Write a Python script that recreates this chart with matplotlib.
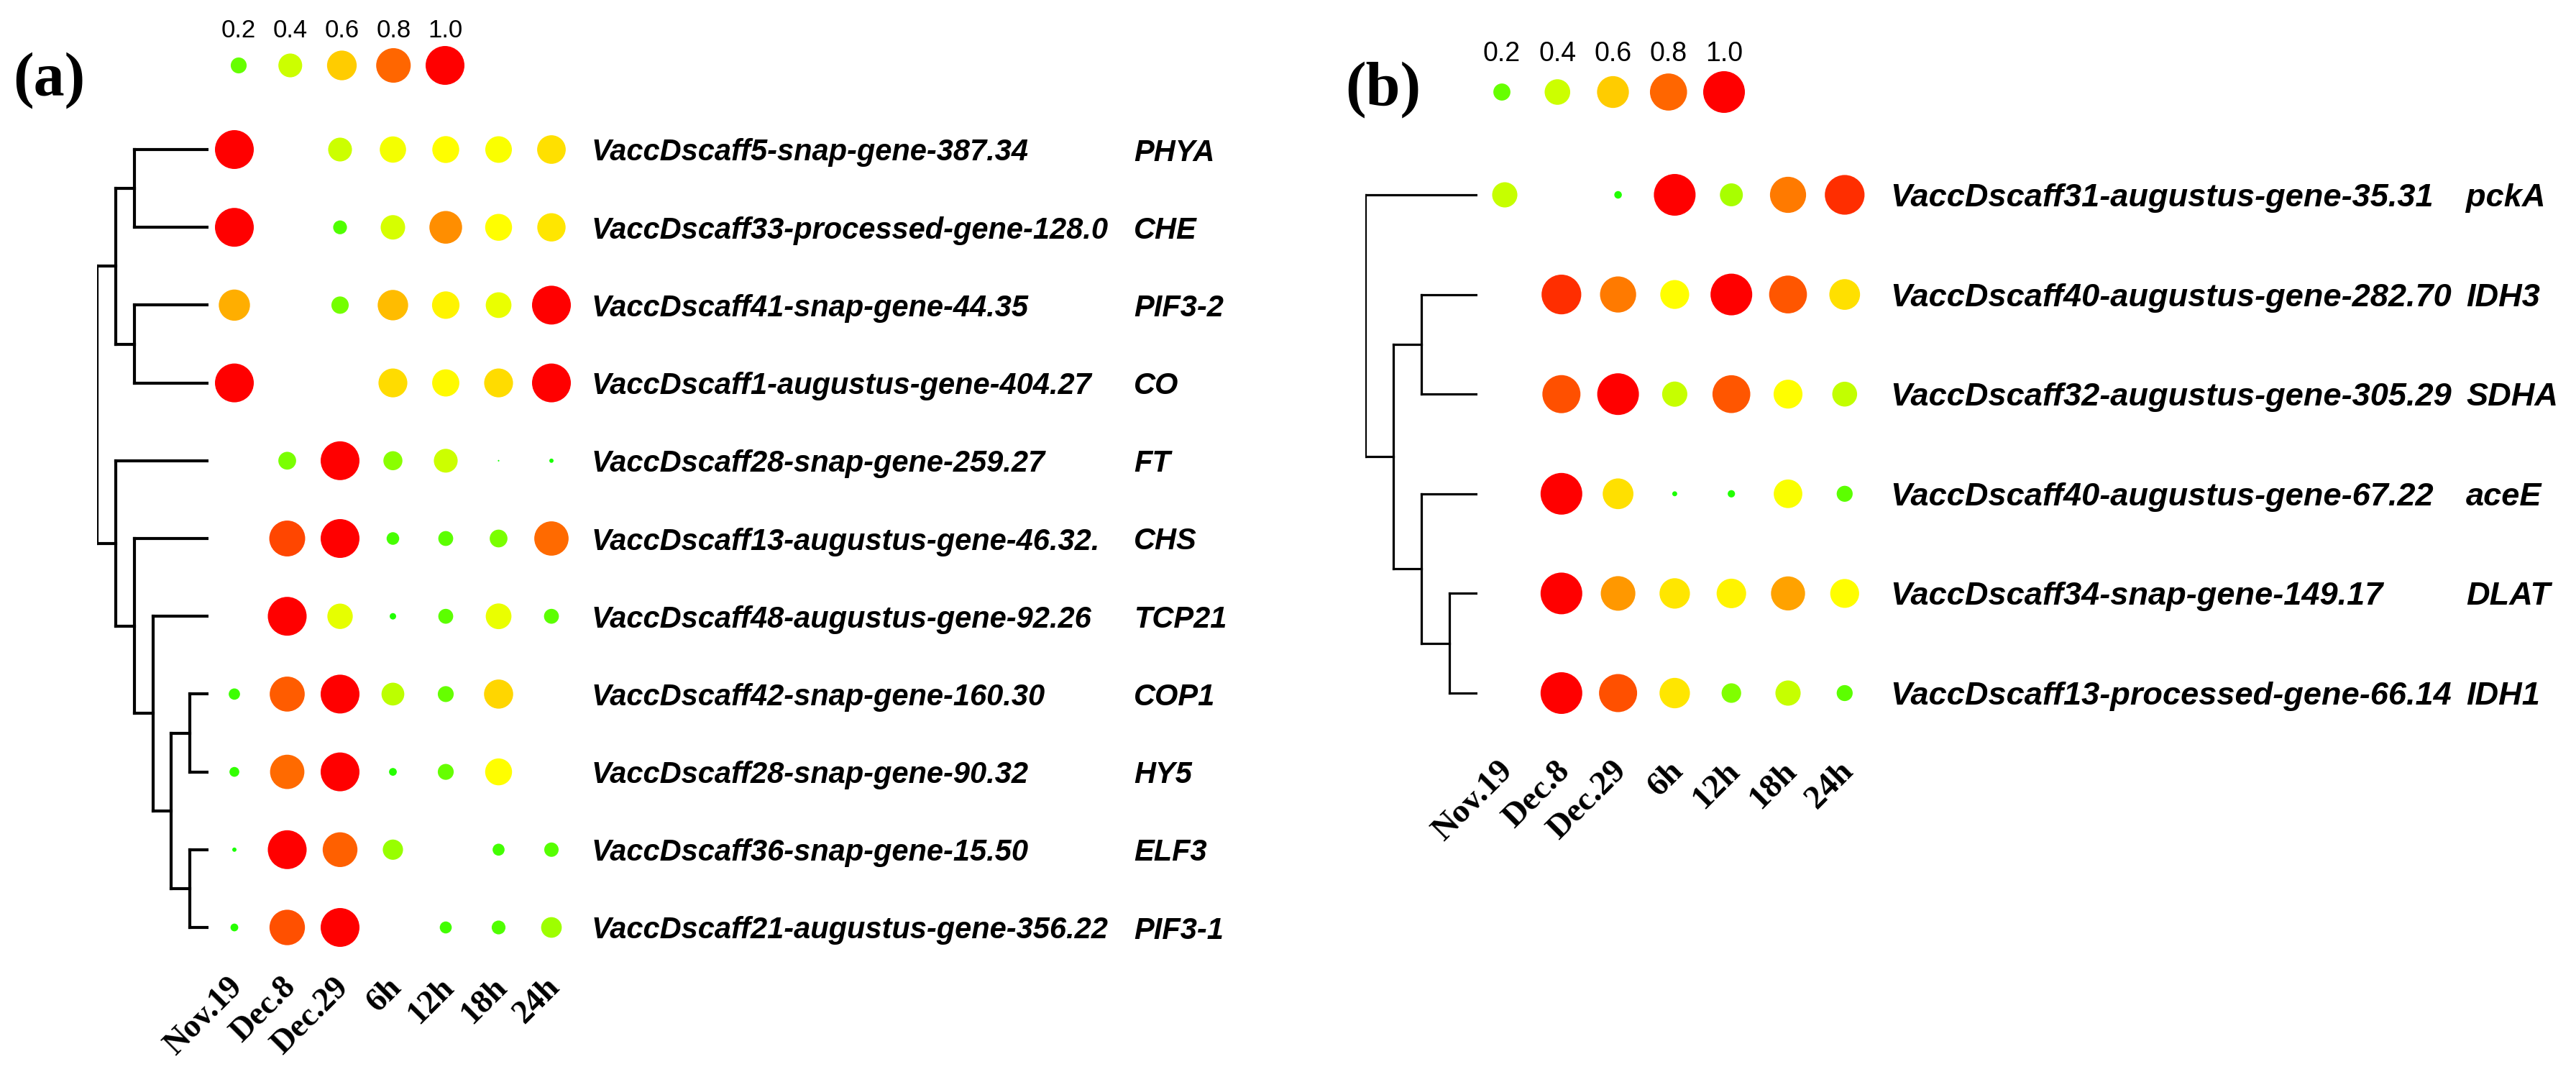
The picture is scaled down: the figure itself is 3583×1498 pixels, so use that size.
import numpy as np
import matplotlib.pyplot as plt
from matplotlib.colors import LinearSegmentedColormap
from matplotlib.transforms import ScaledTranslation

W, H, DPI = 3583, 1498, 100

stages = ['Nov.19', 'Dec.8', 'Dec.29', '6h', '12h', '18h', '24h']
legend_vals = [0.2, 0.4, 0.6, 0.8, 1.0]

# panel (a)
genes_a = ['VaccDscaff5-snap-gene-387.34', 'VaccDscaff33-processed-gene-128.0',
           'VaccDscaff41-snap-gene-44.35', 'VaccDscaff1-augustus-gene-404.27',
           'VaccDscaff28-snap-gene-259.27', 'VaccDscaff13-augustus-gene-46.32.',
           'VaccDscaff48-augustus-gene-92.26', 'VaccDscaff42-snap-gene-160.30',
           'VaccDscaff28-snap-gene-90.32', 'VaccDscaff36-snap-gene-15.50',
           'VaccDscaff21-augustus-gene-356.22']
symbols_a = ['PHYA', 'CHE', 'PIF3-2', 'CO', 'FT', 'CHS', 'TCP21', 'COP1', 'HY5', 'ELF3', 'PIF3-1']
values_a = [
    [1.00, 0.00, 0.40, 0.48, 0.50, 0.49, 0.56],
    [1.00, 0.00, 0.16, 0.42, 0.72, 0.50, 0.55],
    [0.66, 0.00, 0.23, 0.63, 0.52, 0.46, 1.00],
    [1.00, 0.00, 0.00, 0.57, 0.51, 0.57, 1.00],
    [0.00, 0.24, 1.00, 0.27, 0.40, 0.04, 0.05],
    [0.00, 0.86, 1.00, 0.14, 0.18, 0.24, 0.79],
    [0.00, 1.00, 0.45, 0.065, 0.18, 0.46, 0.18],
    [0.12, 0.82, 1.00, 0.37, 0.20, 0.58, 0.00],
    [0.10, 0.79, 1.00, 0.077, 0.20, 0.50, 0.00],
    [0.05, 1.00, 0.81, 0.30, 0.00, 0.13, 0.17],
    [0.077, 0.84, 1.00, 0.00, 0.13, 0.16, 0.31],
]
tree_a = (((0, 1), (2, 3)), (4, (5, (6, ((7, 8), (9, 10))))))

# panel (b)
genes_b = ['VaccDscaff31-augustus-gene-35.31', 'VaccDscaff40-augustus-gene-282.70',
           'VaccDscaff32-augustus-gene-305.29', 'VaccDscaff40-augustus-gene-67.22',
           'VaccDscaff34-snap-gene-149.17', 'VaccDscaff13-processed-gene-66.14']
symbols_b = ['pckA', 'IDH3', 'SDHA', 'aceE', 'DLAT', 'IDH1']
values_b = [
    [0.39, 0.00, 0.07, 1.00, 0.33, 0.76, 0.91],
    [0.00, 0.91, 0.76, 0.50, 1.00, 0.83, 0.56],
    [0.00, 0.84, 1.00, 0.39, 0.83, 0.50, 0.38],
    [0.00, 1.00, 0.56, 0.052, 0.068, 0.49, 0.18],
    [0.00, 1.00, 0.70, 0.55, 0.52, 0.68, 0.50],
    [0.00, 1.00, 0.84, 0.55, 0.25, 0.39, 0.18],
]
tree_b = (0, ((1, 2), (3, (4, 5))))

cmap = LinearSegmentedColormap.from_list('gyr', ['#00ff00', '#ffff00', '#ff0000'])

fig = plt.figure(figsize=(W / DPI, H / DPI), dpi=DPI)


def px_box(x0, y0, x1, y1):
    # pixel box, origin top-left -> figure fraction rect
    return [x0 / W, 1 - y1 / H, (x1 - x0) / W, (y1 - y0) / H]


def dot_size(v, dmax):
    # dot area grows linearly with the value
    d2 = dmax ** 2 * np.clip(1.04 * np.asarray(v, float) - 0.04, 0, None)
    return d2 * (72 / DPI) ** 2


def draw_tree(ax, node, depth, leaf_depth, lw):
    if isinstance(node, int):
        return node
    ys = [draw_tree(ax, ch, depth + 1, leaf_depth, lw) for ch in node]
    for ch, y in zip(node, ys):
        x_end = leaf_depth if isinstance(ch, int) else depth + 1
        ax.plot([depth, x_end], [y, y], color='black', lw=lw, solid_capstyle='projecting')
    ax.plot([depth, depth], [ys[0], ys[-1]], color='black', lw=lw, solid_capstyle='projecting')
    return (ys[0] + ys[-1]) / 2


def panel(genes, symbols, values, tree, c):
    n = len(genes)
    vals = np.array(values)
    x0, dx, y0, dy = c['x0'], c['dx'], c['y0'], c['dy']
    left, right = x0 - dx / 2, x0 + 6.5 * dx
    top, bottom = y0 - dy / 2, y0 + (n - 0.5) * dy

    ax = fig.add_axes(px_box(left, top, right, bottom))
    cols, rows = np.meshgrid(np.arange(len(stages)), np.arange(n))
    ax.scatter(cols.ravel(), rows.ravel(), s=dot_size(vals.ravel(), c['dmax']),
               c=vals.ravel(), cmap=cmap, vmin=0, vmax=1, linewidths=0, clip_on=False)
    ax.set_xlim(-0.5, len(stages) - 0.5)
    ax.set_ylim(n - 0.5, -0.5)
    for s in ax.spines.values():
        s.set_visible(False)

    ax.set_xticks(range(len(stages)))
    ax.set_xticklabels(stages, rotation=45, ha='right', va='top',
                       family='Liberation Serif', weight='bold', fontsize=c['fs_tick'])
    ax.tick_params(axis='x', length=0, pad=c['tick_pad'] * 72 / DPI)
    shift = ScaledTranslation(20 / DPI, 0, fig.dpi_scale_trans)
    for lbl in ax.get_xticklabels():
        lbl.set_transform(lbl.get_transform() + shift)

    ax.yaxis.tick_right()
    ax.set_yticks(range(n))
    ax.set_yticklabels(genes, family='Liberation Sans', weight='bold', style='italic',
                       fontsize=c['fs_gene'])
    ax.tick_params(axis='y', length=0, pad=(c['gene_x'] - right) * 72 / DPI)

    sym_col = (c['sym_x'] - x0) / dx
    for i, sym in enumerate(symbols):
        ax.text(sym_col, i, sym, ha='left', va='center_baseline', family='Liberation Sans',
                weight='bold', style='italic', fontsize=c['fs_gene'], clip_on=False)

    # dendrogram
    tax = fig.add_axes(px_box(c['root_x'], top, c['leaf_x'], bottom), sharey=ax)
    draw_tree(tax, tree, 0, c['leaf_depth'], c['lw'])
    tax.set_xlim(0, c['leaf_depth'])
    tax.axis('off')

    # size / colour key
    lx0, ldx = c['leg_x0'], c['leg_dx']
    lax = fig.add_axes(px_box(lx0 - ldx / 2, c['leg_label_y'], lx0 + 4.5 * ldx, c['leg_dot_y']))
    lax.scatter(range(len(legend_vals)), [0] * len(legend_vals),
                s=dot_size(legend_vals, c['dmax']), c=legend_vals, cmap=cmap,
                vmin=0, vmax=1, linewidths=0, clip_on=False)
    for i, v in enumerate(legend_vals):
        lax.text(i, 1, f'{v:.1f}', ha='center', va='center', family='Liberation Sans',
                 fontsize=c['fs_leg'])
    lax.set_xlim(-0.5, len(legend_vals) - 0.5)
    lax.set_ylim(0, 1)
    lax.axis('off')

    fig.text(c['letter'][0] / W, 1 - c['letter'][1] / H, c['name'], ha='center', va='center',
             family='Liberation Serif', weight='bold', fontsize=62)


panel(genes_a, symbols_a, values_a, tree_a, dict(
    name='(a)', letter=(68, 112), x0=326, dx=73.5, y0=208, dy=108.2, dmax=54,
    root_x=135, leaf_x=290, leaf_depth=6, lw=3.0, gene_x=823, sym_x=1577,
    tick_pad=8, leg_x0=332, leg_dx=71.75, leg_dot_y=91, leg_label_y=43,
    fs_gene=30, fs_tick=33, fs_leg=25))

panel(genes_b, symbols_b, values_b, tree_b, dict(
    name='(b)', letter=(1924, 125), x0=2093, dx=78.8, y0=271, dy=138.6, dmax=58,
    root_x=1899, leaf_x=2055, leaf_depth=4, lw=2.3, gene_x=2629, sym_x=3430,
    tick_pad=18, leg_x0=2089, leg_dx=77.25, leg_dot_y=128, leg_label_y=75,
    fs_gene=32.5, fs_tick=34, fs_leg=27))

fig.savefig('out.png', dpi=DPI, facecolor='white')
